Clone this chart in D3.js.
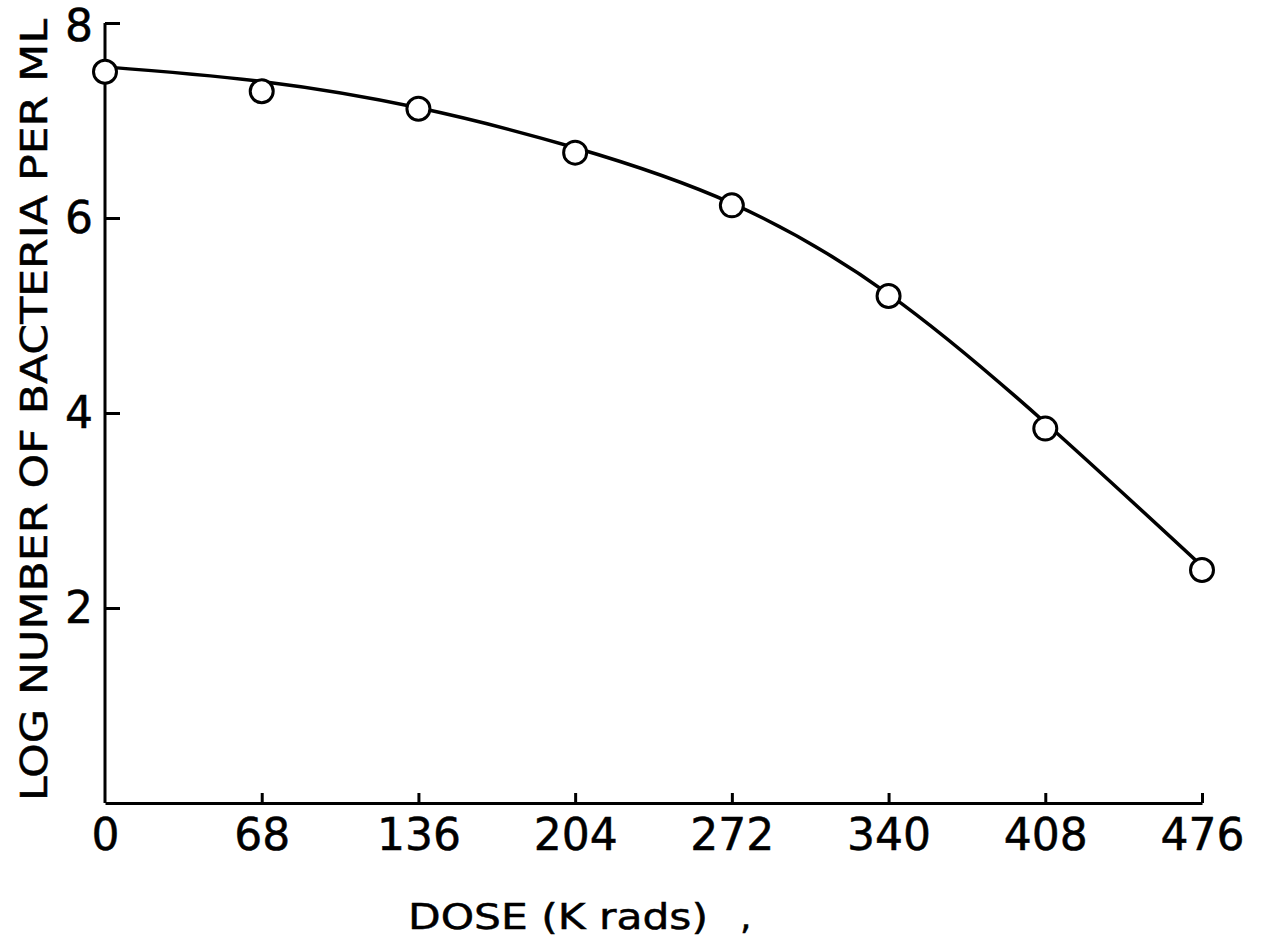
<!DOCTYPE html>
<html lang="en">
<head>
    <meta charset="UTF-8">
    <title>Log number of bacteria vs dose</title>
    <script src="https://d3js.org/d3.v7.min.js"></script>
    <style>
        body {
            margin: 0;
            padding: 0;
            background: #fff;
        }

        svg {
            display: block;
            font-family: "DejaVu Sans", "Liberation Sans", sans-serif;
        }

        svg text {
            stroke: #000;
            stroke-width: 0.5;
        }

        .axis path,
        .axis line {
            stroke: #000;
            stroke-width: 3;
        }

        .axis text {
            fill: #000;
        }
    </style>
</head>
<body>
    <svg id="chart" width="1261" height="943"></svg>

    <script>
        // dose in K rads
        const doses = [0, 68, 136, 204, 272, 340, 408, 476];
        // measured points
        const logCounts = [7.50, 7.30, 7.12, 6.67, 6.13, 5.20, 3.84, 2.39];
        // hand-drawn fitted curve, read at the same doses
        const fitCounts = [7.55, 7.40, 7.13, 6.72, 6.15, 5.22, 3.90, 2.43];
        const yTicks = [2, 4, 6, 8];

        const svg = d3.select("#chart");

        const x = d3.scaleLinear().domain([0, 476]).range([105, 1202]);
        const y = d3.scaleLinear().domain([0, 8]).range([803, 23]);

        // y axis, ticks pointing inwards
        svg.append("g")
            .attr("class", "axis")
            .attr("transform", "translate(105,0)")
            .call(d3.axisLeft(y).tickValues(yTicks).tickSize(-15).tickSizeOuter(0).tickPadding(12))
            .attr("font-size", 44)
            .attr("font-family", null)
            .call(g => g.select(".domain").attr("d", `M0,${y(8)}V${y(0)}`))
            .call(g => g.selectAll(".tick text").filter(d => d === 8).attr("dy", "0.40em"));

        // x axis, ticks pointing up
        svg.append("g")
            .attr("class", "axis")
            .attr("transform", "translate(0,803)")
            .call(d3.axisBottom(x).tickValues(doses).tickSize(-10).tickSizeOuter(0).tickPadding(16))
            .attr("font-size", 44)
            .attr("font-family", null)
            .call(g => g.selectAll(".tick").filter(d => d === 0).select("line").remove());

        const line = d3.line()
            .x((d, i) => x(doses[i]))
            .y(d => y(d))
            .curve(d3.curveNatural);

        svg.append("path")
            .datum(fitCounts)
            .attr("d", line)
            .attr("fill", "none")
            .attr("stroke", "#000")
            .attr("stroke-width", 3.5);

        svg.selectAll("circle.pt")
            .data(logCounts)
            .enter().append("circle")
            .attr("class", "pt")
            .attr("cx", (d, i) => x(doses[i]))
            .attr("cy", d => y(d))
            .attr("r", 11.5)
            .attr("fill", "#fff")
            .attr("stroke", "#000")
            .attr("stroke-width", 3);

        // axis titles
        svg.append("text")
            .attr("transform", "translate(47,410) rotate(-90)")
            .attr("text-anchor", "middle")
            .attr("font-size", 38)
            .attr("textLength", 782)
            .attr("lengthAdjust", "spacingAndGlyphs")
            .text("LOG NUMBER OF BACTERIA PER ML");

        svg.append("text")
            .attr("x", 408)
            .attr("y", 929)
            .attr("font-size", 36)
            .attr("textLength", 300)
            .attr("lengthAdjust", "spacingAndGlyphs")
            .text("DOSE  (K rads)");

        svg.append("text")
            .attr("x", 740)
            .attr("y", 929)
            .attr("font-size", 36)
            .text(",");
    </script>
</body>
</html>
